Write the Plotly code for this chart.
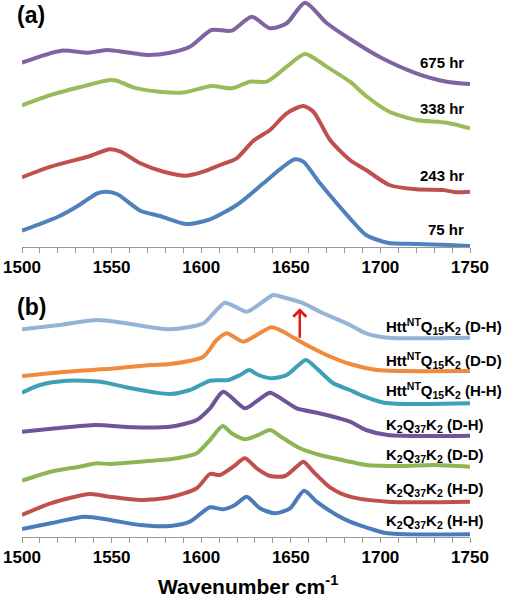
import plotly.graph_objects as go

# ---------------- Panel (a) data: wavenumber vs offset absorbance (arb. units) ----------------
a_675_x = [1500,1522,1537,1548,1558,1570,1582.6,1593.7,1605.8,1617,1628.2,1638.4,1647.7,1657.9,1670,1683,1701,1720,1737,1750]
a_675_y = [184.3,196.3,194.3,197,194.7,192,194.3,200.3,217,216.3,230.3,218.7,223.7,244.3,224,208,188.7,173.7,165.3,163]

a_338_x = [1500,1516,1532,1549,1553,1562,1577,1590,1605.8,1617,1627.2,1636.5,1647.7,1657.9,1670,1683,1692,1705,1720,1737,1750]
a_338_y = [141.7,152,159.7,167,166.3,159.7,155.3,154.5,161,158.7,165.3,165.3,180.3,193,180.3,165.3,151,135.3,127,124.3,118.7]

a_243_x = [1500,1516,1538,1549,1555,1566,1579,1591.9,1601.2,1610.5,1619.8,1629.1,1638.4,1647.7,1657,1662.6,1671.9,1683,1692,1705,1720,1735,1742,1750]
a_243_y = [69.7,80.3,91,97.7,95.3,83.7,75.3,71.3,75.3,82,88.7,106.3,117,133.7,141,135.3,107,87,77,62,57.7,57,54.7,55.3]

a_75_x = [1500,1521,1532,1542,1547,1553,1566,1577,1591.9,1604.9,1619.8,1634.7,1645.8,1652.3,1657,1666.3,1683,1692,1704,1720,1739,1750]
a_75_y = [16.3,31,42,53.7,55.3,53,36.3,31,23,27.7,42,63.7,80.3,87.7,85.3,63.7,28.7,12,4.3,3,2,1]

a_names = ["675 hr", "338 hr", "243 hr", "75 hr"]
a_label_y = [184.3, 139, 72, 18]

# ---------------- Panel (b) data ----------------
b_htt_dh_x = [1500,1521,1542,1558,1582.6,1601.2,1607.7,1613.3,1618.9,1625.4,1631.9,1640.3,1645.8,1656.1,1666.3,1683,1692,1704,1750]
b_htt_dh_y = [207.4,211.7,216.7,213.4,207.4,213.4,225,234,230,225,231.7,241.7,239.4,234,225,211.7,203.4,199,199]

b_htt_dd_x = [1500,1525,1553,1572,1582.6,1601.2,1608.6,1614.2,1623.5,1631,1639.3,1645.8,1657,1670,1683,1698,1711,1750]
b_htt_dd_y = [160.7,165,168.4,171.7,172.7,180,196.7,203.4,195,201.7,209.4,205,193.4,181.7,172.7,166.7,165.7,165.7]

b_htt_hh_x = [1500,1510,1525,1544,1558,1575,1582.6,1593.7,1604.9,1615.1,1621.7,1626.8,1631.9,1639.3,1647.7,1653.3,1658.5,1664.4,1673.7,1683,1689,1702,1750]
b_htt_hh_y = [144,151.7,156,155,149.4,144,142.7,146.7,156,156.7,161.7,166.7,161.7,158.4,161.7,170,176.7,168.4,153.4,146.7,141.7,134,133.4]

b_k37_dh_x = [1500,1519,1541,1562,1582.6,1597.5,1604.9,1612.3,1624.4,1631.9,1638.4,1645.8,1653.3,1657,1670,1683,1692,1704,1750]
b_k37_dh_y = [105,108.4,111.7,109.4,110,116.7,128.4,145,128.4,136.7,144,136.7,128.4,126.7,121.7,115,106.7,101.7,101]

b_k37_dd_x = [1500,1516,1532,1542,1549,1577,1582.6,1597.5,1604.9,1612,1617,1624.4,1631.9,1638.4,1645.8,1655.1,1666.3,1683,1692,1711,1730,1750]
b_k37_dd_y = [56,65,70,73.4,72.7,76.7,77.4,83.4,96.7,110.7,103.4,97.4,101.7,106.7,98.4,88.4,81.7,75,71.7,70.7,71.7,70]

b_k37_hd_x = [1500,1516,1538,1549,1566,1582.6,1597.5,1604.9,1610.5,1617.9,1624.4,1631,1638.4,1646.8,1653.3,1657,1662.6,1671.9,1683,1704,1750]
b_k37_hd_y = [21.7,33.4,42.7,40,36.7,39.4,48.4,62.7,61.7,70,78.4,68.4,60.7,60.7,70,75,65,49.4,40,35,35]

b_k37_hh_x = [1500,1516,1535,1549,1566,1582.6,1593.7,1604.9,1612.3,1618.9,1625.4,1632.8,1641.2,1649.6,1657.4,1664.4,1675.6,1683,1692,1704,1750]
b_k37_hh_y = [7.7,13.4,20,16.7,11.7,10.7,15,29.4,27.4,31.7,40,28.4,23.4,28.4,46,35,21.7,15,9.4,3.4,2.4]

b_names = ["Htt<sup>NT</sup>Q<sub>15</sub>K<sub>2</sub> (D-H)",
           "Htt<sup>NT</sup>Q<sub>15</sub>K<sub>2</sub> (D-D)",
           "Htt<sup>NT</sup>Q<sub>15</sub>K<sub>2</sub> (H-H)",
           "K<sub>2</sub>Q<sub>37</sub>K<sub>2</sub> (D-H)",
           "K<sub>2</sub>Q<sub>37</sub>K<sub>2</sub> (D-D)",
           "K<sub>2</sub>Q<sub>37</sub>K<sub>2</sub> (H-D)",
           "K<sub>2</sub>Q<sub>37</sub>K<sub>2</sub> (H-H)"]
b_label_y = [210, 176.7, 146.7, 111.7, 81.7, 47.7, 15]

arrow_x = 1655
arrow_tail_y = 197.4
arrow_tip_y = 228.4

x_ticks = [1500, 1550, 1600, 1650, 1700, 1750]

# ---------------- figure ----------------
fig = go.Figure()

a_series = [(a_675_x, a_675_y, "#8064A2"), (a_338_x, a_338_y, "#9BBB59"),
            (a_243_x, a_243_y, "#C0504D"), (a_75_x, a_75_y, "#4F81BD")]
for (xs, ys, c) in a_series:
    fig.add_trace(go.Scatter(x=xs, y=ys, mode="lines", xaxis="x", yaxis="y",
                             line=dict(color=c, width=4, shape="spline", smoothing=0.7),
                             showlegend=False, hoverinfo="skip"))

b_series = [(b_htt_dh_x, b_htt_dh_y, "#95B3D7"), (b_htt_dd_x, b_htt_dd_y, "#F08A3C"),
            (b_htt_hh_x, b_htt_hh_y, "#3DA0B8"), (b_k37_dh_x, b_k37_dh_y, "#6F5499"),
            (b_k37_dd_x, b_k37_dd_y, "#8DB553"), (b_k37_hd_x, b_k37_hd_y, "#C0504D"),
            (b_k37_hh_x, b_k37_hh_y, "#4A7CBA")]
for (xs, ys, c) in b_series:
    fig.add_trace(go.Scatter(x=xs, y=ys, mode="lines", xaxis="x2", yaxis="y2",
                             line=dict(color=c, width=4, shape="spline", smoothing=0.7),
                             showlegend=False, hoverinfo="skip"))

xax = dict(range=[1500, 1750], tickvals=x_ticks, ticks="outside", ticklen=5, tickwidth=1,
           tickcolor="#999999", showline=True, linecolor="#999999", linewidth=1,
           showgrid=False, zeroline=False, automargin=False,
           minor=dict(dtick=10, ticks="outside", ticklen=5, tickcolor="#999999", tickwidth=1),
           tickfont=dict(family="Liberation Sans, Arial", size=17, color="black", weight="bold"))

annots = []
for name, ly in zip(a_names, a_label_y):
    annots.append(dict(x=1748, y=ly, xref="x", yref="y", text="<b>%s</b>" % name,
                       showarrow=False, xanchor="right", yanchor="middle",
                       font=dict(family="Liberation Sans, Arial", size=15, color="black")))
for name, ly in zip(b_names, b_label_y):
    annots.append(dict(x=384/506, y=ly, xref="paper", yref="y2", text="<b>%s</b>" % name,
                       showarrow=False, xanchor="left", yanchor="middle",
                       font=dict(family="Liberation Sans, Arial", size=15, color="black")))
annots.append(dict(x=0.03, y=1.0, xref="paper", yref="paper", text="<b>(a)</b>",
                   showarrow=False, xanchor="left", yanchor="top",
                   font=dict(family="Liberation Sans, Arial", size=23, color="black")))
annots.append(dict(x=0.03, y=0.513, xref="paper", yref="paper", text="<b>(b)</b>",
                   showarrow=False, xanchor="left", yanchor="top",
                   font=dict(family="Liberation Sans, Arial", size=23, color="black")))
annots.append(dict(x=0.49, y=0.0, xref="paper", yref="paper", text="<b>Wavenumber cm<sup>-1</sup></b>",
                   showarrow=False, xanchor="center", yanchor="bottom",
                   font=dict(family="Liberation Sans, Arial", size=21, color="black")))
annots.append(dict(x=arrow_x, y=arrow_tip_y, ax=arrow_x, ay=arrow_tail_y, xref="x2", yref="y2",
                   axref="x2", ayref="y2", text="", showarrow=True, arrowhead=4, arrowsize=1,
                   arrowwidth=2.5, arrowcolor="#E8151B", standoff=0, startstandoff=0))

fig.update_layout(
    width=506, height=600, margin=dict(l=0, r=0, t=0, b=0, pad=0, autoexpand=False),
    paper_bgcolor="white", plot_bgcolor="white",
    xaxis=dict(domain=[22/506, 470/506], anchor="y", **xax),
    yaxis=dict(domain=[1-247/600, 1.0], range=[0, 247], visible=False),
    xaxis2=dict(domain=[22/506, 470/506], anchor="y2", **xax),
    yaxis2=dict(domain=[1-536.7/600, 1-290/600], range=[0, 246.7], visible=False),
    annotations=annots,
)

fig.write_html("out.html", config={"displayModeBar": False},
               post_script="document.body.style.margin='0';document.body.style.overflow='hidden';")
